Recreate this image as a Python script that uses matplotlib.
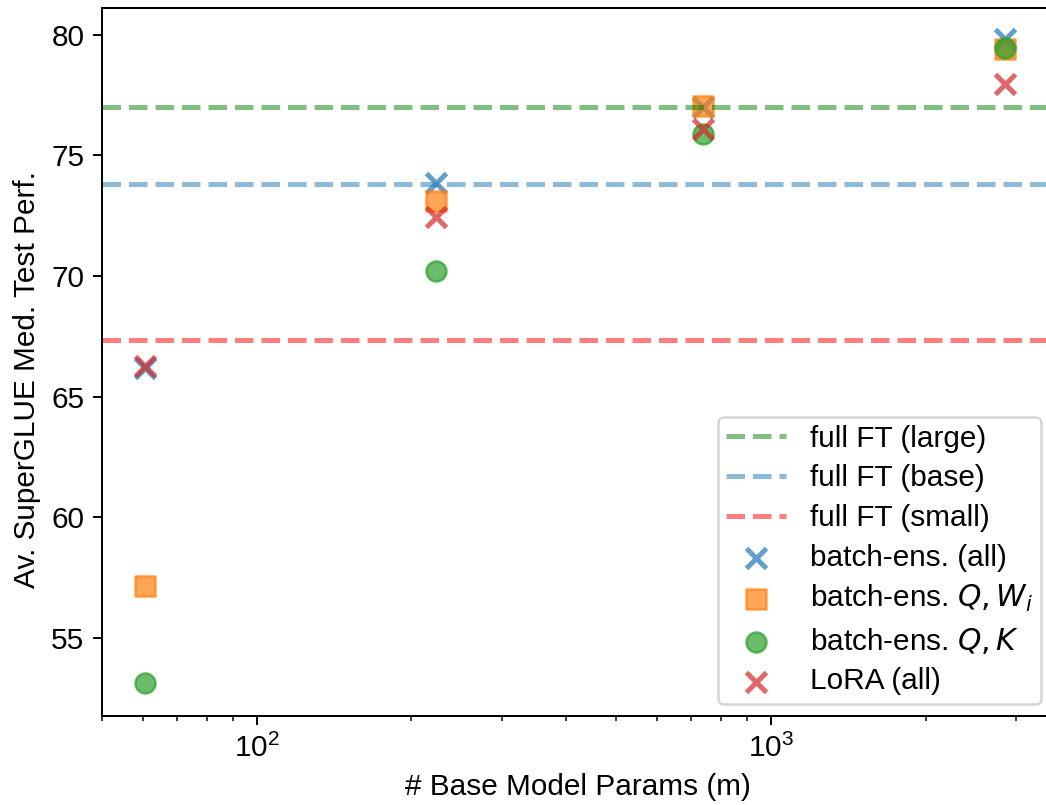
import matplotlib
matplotlib.use("Agg")
import matplotlib.pyplot as plt

# Model sizes (millions of parameters)
params = [60.5, 222.9, 737.7, 2850]

# Average SuperGLUE median test performance
batch_ens_all = [66.2, 73.85, 77.0, 79.8]
batch_ens_qw = [57.15, 73.1, 77.05, 79.4]
batch_ens_qk = [53.15, 70.2, 75.9, 79.45]
lora_all = [66.25, 72.45, 76.1, 77.95]

# Full fine-tuning references
full_ft_labels = ["full FT (large)", "full FT (base)", "full FT (small)"]
full_ft_values = [77.0, 73.8, 67.35]
full_ft_colors = ["green", "C0", "red"]

plt.rcParams["font.family"] = ["Liberation Sans", "DejaVu Sans"]
plt.rcParams["font.size"] = 11.9

W, H, DPI = 1046, 805, 180
fig = plt.figure(figsize=(W / DPI, H / DPI), dpi=DPI)
# axes frame: left 102 px, right ~1053 px (just past the image edge), top 8, bottom 716
ax = fig.add_axes([102 / W, (H - 716) / H, (1053 - 102) / W, (716 - 8) / H])

for lab, val, col in zip(full_ft_labels, full_ft_values, full_ft_colors):
    ax.axhline(val, color=col, alpha=0.5, linestyle="--", linewidth=2, label=lab)

ax.scatter(params, batch_ens_all, marker="x", s=64, color="C0", alpha=0.7,
           linewidths=2.0, label="batch-ens. (all)")
ax.scatter(params, batch_ens_qw, marker="s", s=64, color="C1", alpha=0.7,
           label="batch-ens. $Q, W_i$")
ax.scatter(params, batch_ens_qk, marker="o", s=64, color="C2", alpha=0.7,
           label="batch-ens. $Q, K$")
ax.scatter(params, lora_all, marker="x", s=64, color="C3", alpha=0.7,
           linewidths=2.0, label="LoRA (all)")

ax.set_xscale("log")
ax.set_xlim(50.0, 3540.0)
ax.set_ylim(51.77, 81.1)
ax.set_xlabel("# Base Model Params (m)")
ax.set_ylabel("Av. SuperGLUE Med. Test Perf.")
ax.yaxis.set_label_coords(-0.064, 0.475)
ax.legend(loc="lower right", labelspacing=0.39, borderpad=0.27, borderaxespad=0.42)

fig.savefig("out.png", dpi=DPI)
